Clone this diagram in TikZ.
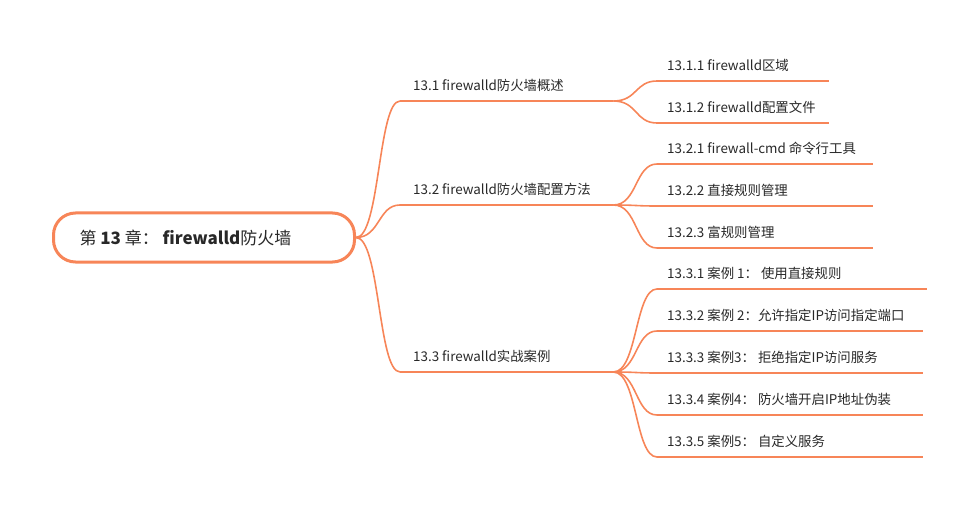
\documentclass[tikz,border=0pt]{standalone}
\usepackage{fontspec}
\setmainfont{Noto Sans CJK SC}
\definecolor{br}{RGB}{247,133,88}
\definecolor{txt}{RGB}{40,40,40}
\newcommand\lbl[2]{\makebox[#1][l]{#2}}
\begin{document}
\begin{tikzpicture}[x=1pt,y=-1pt,
  branch/.style={draw=br, line width=1.6pt},
  curve/.style={draw=br, line width=1.6pt},
  topic/.style={anchor=south west, inner xsep=13pt, inner ysep=7pt, text height=10pt, text depth=3pt, font=\fontsize{13.4}{15}\selectfont, text=txt},
  sub/.style={topic, inner xsep=10pt},
]
\useasboundingbox (0,0) rectangle (978,508);
\node[draw=br, line width=3pt, rounded corners=22pt, minimum width=301pt, minimum height=49pt,
      anchor=west, inner xsep=26pt, font=\fontsize{17}{20}\selectfont, text=txt] (root) at (52,237.5)
      {\lbl{249pt}{第 \textbf{13} 章： \textbf{firewalld}防火墙}};

\node[topic] (a) at (400,101) {\lbl{187pt}{13.1 firewalld防火墙概述}};
\node[topic] (b) at (400,205) {\lbl{187pt}{13.2 firewalld防火墙配置方法}};
\node[topic] (c) at (400,372) {\lbl{187pt}{13.3 firewalld实战案例}};

\node[sub] (a1) at (657,81) {\lbl{152pt}{13.1.1 firewalld区域}};
\node[sub] (a2) at (657,123) {\lbl{152pt}{13.1.2 firewalld配置文件}};

\node[sub] (b1) at (657,164) {\lbl{196pt}{13.2.1 firewall-cmd 命令行工具}};
\node[sub] (b2) at (657,206) {\lbl{196pt}{13.2.2 直接规则管理}};
\node[sub] (b3) at (657,248) {\lbl{196pt}{13.2.3 富规则管理}};

\node[sub] (c1) at (657,289) {\lbl{250pt}{13.3.1 案例 1： 使用直接规则}};
\node[sub] (c2) at (657,331) {\lbl{246pt}{13.3.2 案例 2：允许指定IP访问指定端口}};
\node[sub] (c3) at (657,373) {\lbl{246pt}{13.3.3 案例3： 拒绝指定IP访问服务}};
\node[sub] (c4) at (657,415) {\lbl{246pt}{13.3.4 案例4： 防火墙开启IP地址伪装}};
\node[sub] (c5) at (657,457) {\lbl{246pt}{13.3.5 案例5： 自定义服务}};

\foreach \n in {a,b,c,a1,a2,b1,b2,b3,c1,c2,c3,c4,c5}
  \draw[branch] (\n.south west) -- (\n.south east);

\foreach \n in {a,b,c}
  \draw[curve] (root.east) .. controls +(24,0) and +(-22,0) .. (\n.south west);

\foreach \n in {a1,a2}
  \draw[curve] (a.south east) .. controls +(24,0) and +(-22,0) .. (\n.south west);
\foreach \n in {b1,b2,b3}
  \draw[curve] (b.south east) .. controls +(24,0) and +(-22,0) .. (\n.south west);
\foreach \n in {c1,c2,c3,c4,c5}
  \draw[curve] (c.south east) .. controls +(24,0) and +(-22,0) .. (\n.south west);
\end{tikzpicture}
\end{document}
